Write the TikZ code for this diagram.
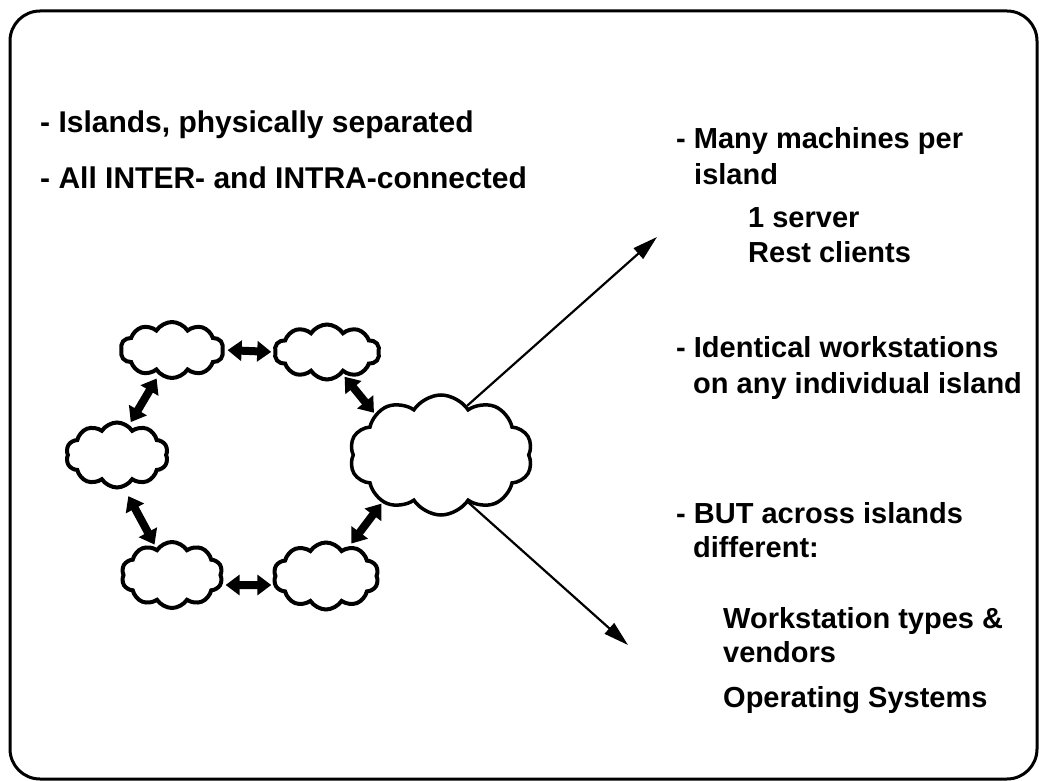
\documentclass[tikz,border=0pt]{standalone}
\usepackage{fontspec}
\setmainfont{Liberation Sans}
\usetikzlibrary{shapes.symbols,arrows.meta}
\begin{document}
\begin{tikzpicture}[x=1pt,y=-1pt,
  cloudnode/.style={cloud, draw, line width=4pt, cloud puffs=10, cloud puff arc=115, aspect=1.8, inner sep=0pt},
  bigarrow/.style={line width=8pt, {Triangle[width=20pt,length=14pt]}-{Triangle[width=20pt,length=14pt]}},
  thinarrow/.style={line width=2.2pt, -{Triangle[width=14pt,length=25pt]}},
  txt/.style={anchor=base west, inner sep=0pt, font=\bfseries\fontsize{29}{34}\selectfont},
  ltxt/.style={txt, font=\bfseries\fontsize{30}{36}\selectfont},
]
\useasboundingbox (0,0) rectangle (1039,781);
\draw[line width=3pt, rounded corners=30pt] (10,11) rectangle (1037,779);

% clouds
\node[cloudnode, minimum width=103pt, minimum height=56pt] (c1) at (172,350) {};
\node[cloudnode, minimum width=105pt, minimum height=55pt] (c2) at (327,352) {};
\node[cloudnode, minimum width=102pt, minimum height=65pt] (c3) at (117,455) {};
\node[cloudnode, minimum width=101pt, minimum height=66pt] (c4) at (172,575) {};
\node[cloudnode, minimum width=105pt, minimum height=67pt] (c5) at (326,576) {};
\node[cloudnode, line width=3.5pt, cloud puffs=10, minimum width=183pt, minimum height=120pt] (c6) at (441,455) {};

% thick double arrows
\draw[bigarrow, shorten <=3pt, shorten >=2pt] (c1.east) -- (c2.west);
\draw[bigarrow, shorten <=4pt, shorten >=3pt] (c1.-118) -- (c3.68);
\draw[bigarrow, shorten <=9pt, shorten >=3pt] (c3.-78) -- (c4.120);
\draw[bigarrow, shorten <=3pt, shorten >=2pt] ([yshift=-10pt]c4.east) -- ([yshift=-9pt]c5.west);
\draw[bigarrow, shorten <=3pt, shorten >=1pt] (c2.-55) -- (c6.148);
\draw[bigarrow, shorten <=3pt, shorten >=1pt] (c5.52) -- (c6.-141);

% thin arrows
\coordinate (tipA) at (657,237);
\coordinate (tipB) at (628,645);
\draw[thinarrow] (c6.62) -- (tipA);
\draw[thinarrow] (c6.-60) -- (tipB);

% left text
\node[ltxt] (l1) at (40,133) {- Islands, physically separated};
\node[ltxt] (l2) at (40,188) {- All INTER- and INTRA-connected};

% right text
\node[txt] (r1) at (676,149) {- Many machines per};
\node[txt] (r2) at (694,184) {island};
\node[txt] (r3) at (748,227) {1 server};
\node[txt] (r4) at (748,262) {Rest clients};
\node[txt] (r5) at (676,357) {- Identical workstations};
\node[txt] (r6) at (693,393) {on any individual island};
\node[txt] (r7) at (676,523) {- BUT across islands};
\node[txt] (r8) at (693,557) {different:};
\node[txt] (r9) at (723,628) {Workstation types \&};
\node[txt] (r10) at (723,662) {vendors};
\node[txt] (r11) at (723,707) {Operating Systems};
\end{tikzpicture}
\end{document}
